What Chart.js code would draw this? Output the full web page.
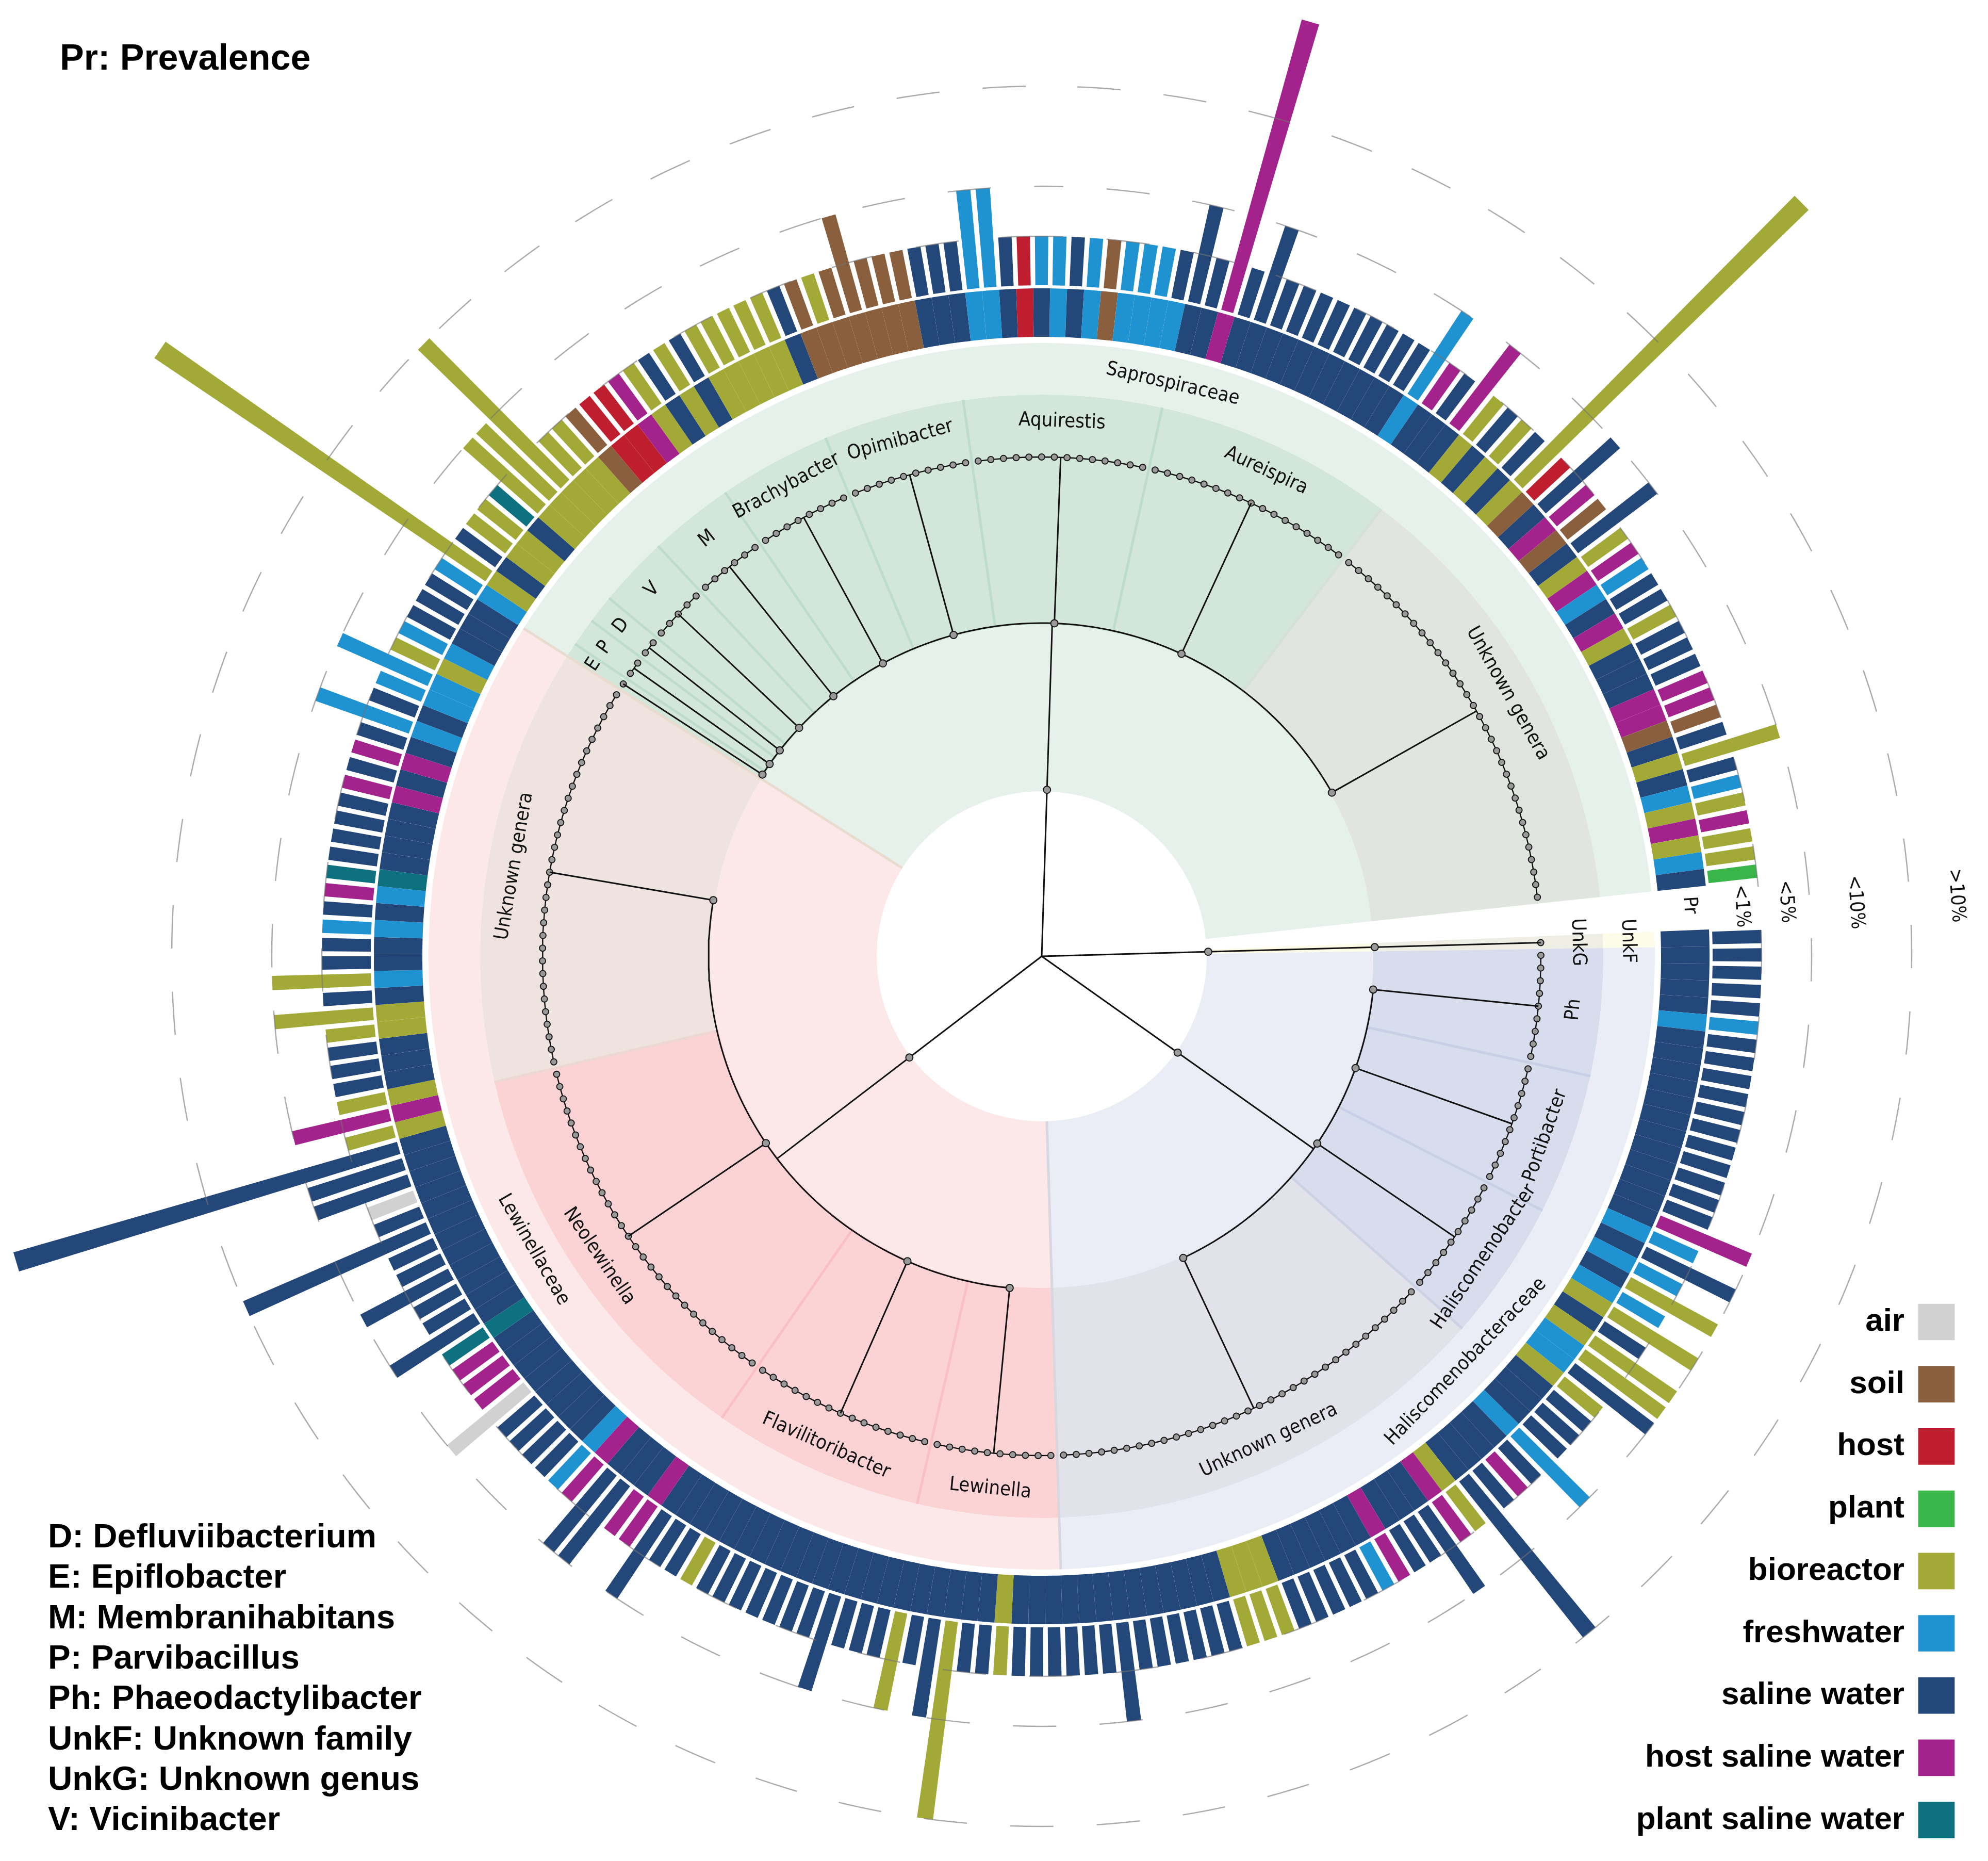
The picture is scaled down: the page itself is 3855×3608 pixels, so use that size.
<!DOCTYPE html>
<html>
<head>
<meta charset="utf-8">
<title>Pr: Prevalence</title>
<script src="https://cdn.jsdelivr.net/npm/chart.js"></script>
<style>
  html, body { margin: 0; padding: 0; background: #fff; }
  #stage { position: relative; width: 3855px; height: 3608px; overflow: hidden; }
  #rings { position: absolute; left: 725px; top: 559px; }
  #tree { position: absolute; left: 0; top: 0; }
</style>
</head>
<body>
<div id="stage">
  <canvas id="rings" width="2590" height="2590"></canvas>
  <canvas id="tree" width="3855" height="3608"></canvas>
</div>
<script>
// ── Data, clockwise from 3 o'clock ─────────────────────────────────

// s saline water, f freshwater, b bioreactor, h host saline water, o soil,
// r host, t plant saline water, a air, p plant
var HABITAT_NAMES = ['air', 'soil', 'host', 'plant', 'bioreactor', 'freshwater', 'saline water', 'host saline water', 'plant saline water'];
var HABITAT_KEYS = ['a', 'o', 'r', 'p', 'b', 'f', 's', 'h', 't'];
var HABITAT_COLORS = ['#d1d1d1', '#8a5f3d', '#be1e2d', '#39b54a', '#a2a937', '#1f92d1', '#24477a', '#a3228b', '#0e7180'];

var TIP_PREVALENT = [
  'sssssfssss', 'ssssssshfs', 'fbfbsbbsbs', 'ssfshssbhs', 'sshfsssssbb', 'bsssssssss', 'ssssbssbss', 'bsssssssss',
  'ssbssshhss', 'hfssssahhh', 'tssssssssa', 'sssbhbsssb', 'bsbssfshts', 'ssshshsfsf', 'fbfsssfbsb', 'btbbbbborr',
  'hbsbsbbbbb', 'soboooooss', 'sffsrffsfo', 'fffssshsss', 'ssssssssfh', 'shbsbsbrsh', 'osbhfssbss', 'shhosbsfbh', 'bbp'
].join('').split('');

var TIP_HABITAT = [
  'sssssfssss', 'ssssssssfs', 'fsfbsbffbs', 'ssfssssbhs', 'sshssssssbb', 'bsssssssss', 'ssssbsssss', 'ssssssssss',
  'sssssshsss', 'hfssssssss', 'tsssssssss', 'sssbhbsssb', 'bsfssfsfts', 'ssshshsfsf', 'fbfsssfbsb', 'bsbbbbborr',
  'hbsbsbbbbb', 'soooooooss', 'sffsrsfsfo', 'ffffsshsss', 'ssssssssfs', 'ssbsbsbosh', 'osbhfshbss', 'shhosbsfbh', 'bfs'
].join('').split('');

var PREVALENCE = [
  1, 1, 1, 1, 1, 1, 1, 1, 1, 1,   1, 1, 1, 1, 1, 1, 1, 5, 1, 5,
  1, 5, 1, 5, 1, 5, 5, 5, 1, 1,   1, 1, 5, 1, 1, 1, 10, 1, 1, 5,
  1, 1, 1, 1, 1, 1, 1, 1, 1, 1, 1,  1, 1, 1, 1, 1, 1, 1, 5, 1, 1,
  1, 1, 1, 1, 1, 1, 1, 10, 5, 1,  5, 1, 1, 1, 5, 1, 1, 1, 1, 1,
  1, 1, 1, 1, 1, 5, 1, 1, 5, 5,   1, 1, 1, 1, 1, 1, 5, 1, 1, 1,
  1, 5, 1, 1, 5, 1, 1, 10, 1, 1,  5, 5, 20, 1, 5, 1, 1, 1, 1, 1,
  5, 1, 5, 1, 1, 1, 1, 1, 1, 1,   1, 1, 1, 1, 1, 1, 1, 5, 1, 1,
  5, 1, 1, 1, 1, 1, 1, 20, 1, 1,  1, 1, 5, 5, 10, 1, 1, 1, 1, 1,
  1, 1, 1, 1, 1, 1, 1, 1, 1, 1,   1, 1, 1, 1, 5, 1, 1, 1, 1, 1,
  1, 5, 5, 1, 1, 1, 1, 1, 1, 1,   1, 1, 1, 1, 5, 1, 15, 1, 5, 1,
  1, 1, 1, 1, 1, 1, 1, 1, 5, 1,   1, 5, 1, 1, 1, 1, 20, 1, 5, 1,
  1, 5, 1, 1, 1, 1, 1, 1, 1, 1,   1, 1, 1, 1, 1, 5, 1, 1, 1, 1,
  1, 1, 1
];

var PREV_TICKS = [0, 1, 5, 10, 15, 20];
var PREV_TICK_LABELS = ['<1%', '<5%', '<10%', '>10%'];

var FAMILY_NAMES = ['UnkF', 'Haliscomenobacteraceae', 'Lewinellaceae', 'Saprospiraceae'];
var FAMILY_TIPS = [1, 61, 85, 97];
var FAMILY_COLORS = ['#fdfce8', '#eaedf6', '#fce8e9', '#e5f1ea'];

var GENUS_NAMES = ['UnkG', 'Ph', 'Portibacter', 'Haliscomenobacter', 'Unknown genera',
  'Lewinella', 'Flavilitoribacter', 'Neolewinella', 'Unknown genera',
  'E', 'P', 'D', 'V', 'M', 'Brachybacter', 'Opimibacter', 'Aquirestis', 'Aureispira', 'Unknown genera'];
var GENUS_TIPS = [1, 9, 10, 10, 32, 10, 15, 29, 31, 1, 2, 2, 5, 6, 8, 10, 14, 17, 32];
var GENUS_FAMILY = [0, 1, 1, 1, 1, 2, 2, 2, 2, 3, 3, 3, 3, 3, 3, 3, 3, 3, 3];
var GENUS_COLORS = ['#eeeee4', '#d8ddee', '#d8ddee', '#d8ddee', '#e1e2ea',
  '#fcd3d5', '#fcd3d5', '#fcd3d5', '#eee3df',
  '#d2e6da', '#d2e6da', '#d2e6da', '#d2e6da', '#d2e6da', '#d2e6da', '#d2e6da', '#d2e6da', '#d2e6da', '#e1e5df'];
var GENUS_EDGE_COLORS = ['#e6e6da', '#c9d0e6', '#c9d0e6', '#ccd1e4', '#d8d6de',
  '#fac0c4', '#fac0c4', '#eed6d2', '#e8dcd0',
  '#bedccc', '#bedccc', '#bedccc', '#bedccc', '#bedccc', '#bedccc', '#bedccc', '#bedccc', '#d6e0d8', '#ffffff'];

var ABBREVIATIONS = ['D: Defluviibacterium', 'E: Epiflobacter', 'M: Membranihabitans', 'P: Parvibacillus',
  'Ph: Phaeodactylibacter', 'UnkF: Unknown family', 'UnkG: Unknown genus', 'V: Vicinibacter'];

// ── Layout ─────────────────────────────────────────────────────────

var CX = 2020, CY = 1854;
var START = -2.3, PITCH = 1.46;           // degrees
var TIP_COUNT = TIP_HABITAT.length;
var GAP_WEIGHT = 360 / PITCH - TIP_COUNT;

var R_HOLE = 320, R_GENUS_IN = 643, R_GENUS_OUT = 1089, R_FAMILY_OUT = 1189;
var R_HABITAT_IN = 1201, R_HABITAT_OUT = 1295, R_BAR = 1301;
var R_FAMILY_NODE = 323, R_GENUS_NODE = 646, R_TIP = 968;
var PREV_RADII = [1301, 1396, 1493, 1687, 1885, 2075];
var DASH_CIRCLES = [{ r: 1396, offset: 42 }, { r: 1493, offset: 42 }, { r: 1687, offset: 99 }];
var BAR_FILL = 0.73;

function polar(r, deg) {
  var a = deg * Math.PI / 180;
  return { x: CX + r * Math.cos(a), y: CY + r * Math.sin(a) };
}

function tipAngle(i) {
  return START + (i + 0.5) * PITCH;
}

function prevRadius(v) {
  var k = PREV_TICKS.indexOf(v);
  return PREV_RADII[k];
}

function habitatColor(code) {
  return HABITAT_COLORS[HABITAT_KEYS.indexOf(code)];
}

function arcPoints(r, from, to) {
  var pts = [];
  var steps = Math.max(1, Math.ceil(Math.abs(to - from)));
  for (var k = 0; k <= steps; k++) {
    pts.push(polar(r, from + (to - from) * k / steps));
  }
  return pts;
}

// ── Rings: doughnut, outermost dataset first ───────────────────────

new Chart(document.getElementById('rings'), {
  type: 'doughnut',
  data: {
    labels: TIP_HABITAT.concat(['gap']),
    datasets: [
      {
        data: TIP_HABITAT.map(function () { return 1; }).concat([GAP_WEIGHT]),
        backgroundColor: TIP_HABITAT.map(habitatColor).concat(['rgba(0,0,0,0)']),
        weight: R_HABITAT_OUT - R_HABITAT_IN
      },
      {
        data: [1],
        backgroundColor: ['rgba(0,0,0,0)'],
        weight: R_HABITAT_IN - R_FAMILY_OUT
      },
      {
        data: FAMILY_TIPS.concat([GAP_WEIGHT]),
        backgroundColor: FAMILY_COLORS.concat(['rgba(0,0,0,0)']),
        weight: R_FAMILY_OUT - R_GENUS_OUT
      },
      {
        data: GENUS_TIPS.concat([GAP_WEIGHT]),
        backgroundColor: GENUS_COLORS.concat(['rgba(0,0,0,0)']),
        weight: R_GENUS_OUT - R_GENUS_IN
      },
      {
        data: FAMILY_TIPS.concat([GAP_WEIGHT]),
        backgroundColor: FAMILY_COLORS.concat(['rgba(0,0,0,0)']),
        weight: R_GENUS_IN - R_HOLE
      }
    ]
  },
  options: {
    responsive: false,
    animation: false,
    devicePixelRatio: 1,
    events: [],
    rotation: START + 90,
    circumference: 360,
    cutout: (R_HOLE / R_HABITAT_OUT * 100) + '%',
    borderWidth: 0,
    layout: { padding: 0 },
    plugins: { legend: { display: false }, tooltip: { enabled: false } }
  }
});

// ── Tree, bars, reference circles: scatter over the page ───────────

var datasets = [];

function addLine(points, color, width, order, extra) {
  var ds = {
    data: points,
    showLine: true,
    borderColor: color,
    borderWidth: width,
    pointRadius: 0,
    tension: 0,
    fill: false,
    order: order
  };
  if (extra) {
    Object.keys(extra).forEach(function (k) { ds[k] = extra[k]; });
  }
  datasets.push(ds);
}

// prevalence bars widen outwards like the rest of the wheel
PREVALENCE.forEach(function (v, i) {
  var mid = tipAngle(i);
  var half = PITCH * BAR_FILL / 2;
  var top = prevRadius(v);
  datasets.push({
    data: [polar(R_BAR, mid - half), polar(top, mid - half), polar(top, mid + half), polar(R_BAR, mid + half)],
    showLine: true,
    borderWidth: 0,
    pointRadius: 0,
    tension: 0,
    backgroundColor: habitatColor(TIP_PREVALENT[i]),
    fill: 'shape',
    order: 6
  });
});

DASH_CIRCLES.forEach(function (c) {
  addLine(arcPoints(c.r, -90, 270), 'rgba(115,115,115,0.6)', 2.5, 5, {
    borderDash: [84, 84],
    borderDashOffset: c.offset
  });
});

// genus edges inside the tinted ring
var edgeTip = 0;
GENUS_TIPS.forEach(function (n, g) {
  edgeTip += n;
  if (g === GENUS_TIPS.length - 1) return;
  var angle = START + edgeTip * PITCH;
  var familyEnd = GENUS_FAMILY[g] !== GENUS_FAMILY[g + 1];
  var inner = familyEnd ? R_HOLE : R_GENUS_IN;
  var outer = familyEnd ? R_FAMILY_OUT : R_GENUS_OUT;
  if (g === 0) return;
  addLine([polar(inner, angle), polar(outer, angle)], GENUS_EDGE_COLORS[g], 5, 7);
});

// genus groups: chain of tips, branch to the family arc
var tipCursor = 0;
var genusCenters = GENUS_TIPS.map(function (n, g) {
  var first = tipCursor;
  tipCursor += n;
  var last = tipCursor - 1;
  var pts = [];
  for (var i = first; i <= last; i++) pts.push(polar(R_TIP, tipAngle(i)));
  addLine(pts, '#111', 2.4, 3, {
    pointRadius: 6,
    pointBackgroundColor: '#999',
    pointBorderColor: '#1a1a1a',
    pointBorderWidth: 2
  });
  return (tipAngle(first) + tipAngle(last)) / 2;
});

var nodePoints = [];

FAMILY_NAMES.forEach(function (name, f) {
  var centers = genusCenters.filter(function (c, g) { return GENUS_FAMILY[g] === f; });
  var from = centers[0];
  var to = centers[centers.length - 1];
  var mid = (from + to) / 2;

  if (centers.length > 1) {
    addLine(arcPoints(R_GENUS_NODE, from, to), '#111', 3, 2);
    centers.forEach(function (c) {
      addLine([polar(R_GENUS_NODE, c), polar(R_TIP, c)], '#111', 3, 2);
      nodePoints.push(polar(R_GENUS_NODE, c));
    });
    addLine([polar(0, mid), polar(R_GENUS_NODE, mid)], '#111', 3, 2);
    nodePoints.push(polar(R_FAMILY_NODE, mid));
  } else {
    addLine([polar(0, mid), polar(R_TIP, mid)], '#111', 3, 2);
    nodePoints.push(polar(R_FAMILY_NODE, mid));
    nodePoints.push(polar(R_GENUS_NODE, mid));
  }
});

datasets.push({
  data: nodePoints,
  showLine: false,
  pointRadius: 7,
  pointBackgroundColor: '#999',
  pointBorderColor: '#1a1a1a',
  pointBorderWidth: 2,
  order: 1
});

// habitat key swatches
var LEGEND_BOX_X = 3755, LEGEND_Y = 2563, LEGEND_STEP = 120.7;

datasets.push({
  data: HABITAT_NAMES.map(function (n, i) { return { x: LEGEND_BOX_X, y: LEGEND_Y + i * LEGEND_STEP }; }),
  showLine: false,
  pointStyle: 'rect',
  pointRadius: 50,
  pointBorderWidth: 0,
  pointBackgroundColor: HABITAT_COLORS,
  order: 1
});

// ── Text ───────────────────────────────────────────────────────────

var RING_FONT = '"DejaVu Sans", sans-serif';
var KEY_FONT = '"Liberation Sans", Arial, sans-serif';

function tangentRotation(deg) {
  var a = ((deg % 360) + 360) % 360;
  return a > 0 && a < 180 ? deg - 90 : deg + 90;
}

// the ring labels are narrower than plain DejaVu Sans
function radialText(ctx, x, y, text, rotationDeg, size) {
  ctx.save();
  ctx.translate(x, y);
  ctx.rotate(rotationDeg * Math.PI / 180);
  ctx.scale(0.9, 1);
  ctx.font = size + 'px ' + RING_FONT;
  ctx.fillStyle = '#111';
  ctx.textAlign = 'center';
  ctx.textBaseline = 'middle';
  ctx.fillText(text, 0, 0);
  ctx.restore();
}

var figureText = {
  id: 'figureText',
  afterDraw: function (chart) {
    var ctx = chart.ctx;
    var sx = chart.scales.x, sy = chart.scales.y;

    function at(p) {
      return { x: sx.getPixelForValue(p.x), y: sy.getPixelForValue(p.y) };
    }

    // family names in the outer tinted band
    var familyAngles = [-1.5, 43.7, 150, 282.9];
    FAMILY_NAMES.forEach(function (name, f) {
      var p = at(polar(f === 0 ? 1137 : 1138, familyAngles[f]));
      radialText(ctx, p.x, p.y, name, tangentRotation(familyAngles[f]), 38);
    });

    // genus names just outside the tips
    var cursor = 0;
    GENUS_NAMES.forEach(function (name, g) {
      var mid = START + (cursor + GENUS_TIPS[g] / 2) * PITCH;
      cursor += GENUS_TIPS[g];
      var p = at(polar(g === 0 ? 1040 : 1037, g === 0 ? -1.5 : mid));
      radialText(ctx, p.x, p.y, name, tangentRotation(g === 0 ? -1.5 : mid), 38);
    });

    // column headings in the gap
    var headR = [1260, 1360, 1447, 1581, 1777];
    var headA = [-4.5, -4.1, -4.2, -3.8, -3.8];
    ['Pr'].concat(PREV_TICK_LABELS).forEach(function (label, i) {
      var p = at(polar(headR[i], headA[i]));
      radialText(ctx, p.x, p.y, label, 86, 38);
    });

    ctx.save();
    ctx.fillStyle = '#000';
    ctx.textBaseline = 'middle';

    ctx.textAlign = 'left';
    ctx.font = 'bold 70px ' + KEY_FONT;
    ctx.fillText('Pr: Prevalence', sx.getPixelForValue(116), sy.getPixelForValue(116));

    ctx.font = 'bold 65.5px ' + KEY_FONT;
    ABBREVIATIONS.forEach(function (line, i) {
      ctx.fillText(line, sx.getPixelForValue(93), sy.getPixelForValue(2982 + i * 78.3));
    });

    ctx.textAlign = 'right';
    ctx.font = 'bold 62px ' + KEY_FONT;
    HABITAT_NAMES.forEach(function (name, i) {
      ctx.fillText(name, sx.getPixelForValue(3693), sy.getPixelForValue(LEGEND_Y + i * LEGEND_STEP));
    });
    ctx.restore();
  }
};

new Chart(document.getElementById('tree'), {
  type: 'scatter',
  data: { datasets: datasets },
  options: {
    responsive: false,
    animation: false,
    devicePixelRatio: 1,
    events: [],
    layout: { padding: 0, autoPadding: false },
    scales: {
      x: { type: 'linear', min: 0, max: 3855, display: false },
      y: { type: 'linear', min: 0, max: 3608, reverse: true, display: false }
    },
    plugins: { legend: { display: false }, tooltip: { enabled: false } }
  },
  plugins: [figureText]
});
</script>
</body>
</html>
